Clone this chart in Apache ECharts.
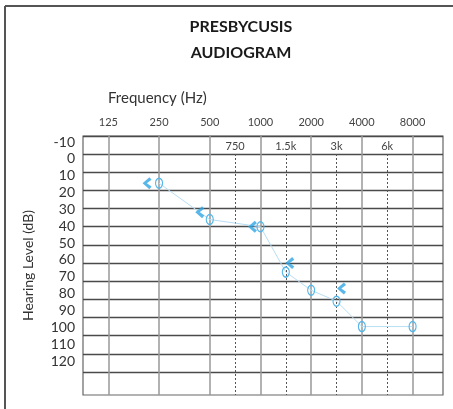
<!DOCTYPE html>
<html>
<head>
<meta charset="utf-8">
<script src="https://cdn.jsdelivr.net/npm/echarts@6/dist/echarts.min.js"></script>
<style>
html,body{margin:0;padding:0;background:#fff;}
#chart{width:453px;height:409px;}
</style>
</head>
<body>
<div id="chart"></div>
<script>
// ---- data ----
const freqLabels = ['125', '250', '500', '1000', '2000', '4000', '8000'];
const midLabels = ['750', '1.5k', '3k', '6k'];
const dbTicks = [-10, 0, 10, 20, 30, 40, 50, 60, 70, 80, 90, 100, 110, 120];
const airFreq = ['250', '500', '1000', '1.5k', '2000', '3k', '4000', '8000'];
const airDb = [16, 36, 40, 65, 75, 81, 95, 95];
const boneFreq = ['250', '500', '1000', '1.5k', '3k'];
const boneDb = [16, 32, 40, 60, 74];
// style: horizontal pixel shift of the bone markers
const boneShiftPx = [-12, -10, -8, 4, 5];

function pos(label) {
  const i = freqLabels.indexOf(label);
  if (i >= 0) return i;
  return midLabels.indexOf(label) + 2.5;
}
const mainTicks = freqLabels.map((_, i) => i);
const midTicks = midLabels.map((_, i) => i + 2.5);

const FONT = 'Lato';
const chart = echarts.init(document.getElementById('chart'));
chart.setOption({
  animation: false,
  backgroundColor: '#fff',
  title: [{
    text: 'PRESBYCUSIS\nAUDIOGRAM',
    left: 241, top: 14, textAlign: 'center', padding: 0,
    textStyle: { fontFamily: FONT, fontWeight: 'bold', fontSize: 16, lineHeight: 26, color: '#1a1a1a' }
  }, {
    text: 'Frequency (Hz)',
    left: 108, top: 91, padding: 0,
    textStyle: { fontFamily: FONT, fontWeight: 'normal', fontSize: 15, color: '#333' }
  }],
  graphic: [
    { type: 'line', shape: { x1: 5, y1: 6, x2: 453, y2: 6 }, style: { stroke: '#555', lineWidth: 2 } },
    { type: 'line', shape: { x1: 5, y1: 6, x2: 5, y2: 409 }, style: { stroke: '#555', lineWidth: 2 } }
  ],
  grid: [
    { left: 83, top: 136, width: 360, height: 259, show: true, borderColor: '#666', borderWidth: 1.2, backgroundColor: 'transparent' },
    { left: 83, top: 154, width: 360, height: 241, show: false }
  ],
  xAxis: [{
    gridIndex: 0, type: 'value', position: 'top', min: -0.5, max: 6.6,
    axisLine: { show: false },
    axisTick: { show: false, customValues: mainTicks },
    axisLabel: { customValues: mainTicks, margin: 8, fontFamily: FONT, fontSize: 11, color: '#444',
      formatter: v => freqLabels[Math.round(v)] },
    splitLine: { show: true, customValues: mainTicks, lineStyle: { color: '#999', width: 1.5 } }
  }, {
    gridIndex: 1, type: 'value', position: 'top', min: -0.5, max: 6.6,
    axisLine: { show: false },
    axisTick: { show: false, customValues: midTicks },
    axisLabel: { customValues: midTicks, margin: 2, fontFamily: FONT, fontSize: 11, color: '#444',
      formatter: v => midLabels[Math.round(v - 2.5)] },
    splitLine: { show: true, customValues: midTicks, lineStyle: { color: '#555', width: 1, type: [2, 2] } }
  }],
  yAxis: [{
    gridIndex: 0, type: 'value', inverse: true, min: -10, max: 132.7, interval: 10,
    axisLine: { show: false },
    axisTick: { show: false, customValues: dbTicks },
    axisLabel: { show: false },
    splitLine: { show: true, customValues: dbTicks, lineStyle: { color: '#4a4a4a', width: 1.3 } }
  }, {
    gridIndex: 0, type: 'value', inverse: true, min: -13.56, max: 140.18,
    position: 'left',
    name: 'Hearing Level (dB)', nameLocation: 'middle', nameGap: 48, nameRotate: 90,
    nameTextStyle: { fontFamily: FONT, fontSize: 14, color: '#333' },
    axisLine: { show: false },
    axisTick: { show: false, customValues: dbTicks },
    axisLabel: { customValues: dbTicks, margin: 8, fontFamily: FONT, fontSize: 14, color: '#333' },
    splitLine: { show: false }
  }, {
    gridIndex: 1, type: 'value', min: 0, max: 1, show: false
  }],
  series: [{
    type: 'line', xAxisIndex: 0, yAxisIndex: 0,
    data: airFreq.map((f, i) => [pos(f), airDb[i]]),
    symbol: 'circle', symbolSize: [7, 10], showSymbol: true,
    itemStyle: { color: 'rgba(255,255,255,0)', borderColor: '#55b6ea', borderWidth: 1.3 },
    lineStyle: { color: '#b8def4', width: 1 },
    z: 3
  }, {
    type: 'scatter', xAxisIndex: 0, yAxisIndex: 0,
    data: boneFreq.map((f, i) => ({ value: [pos(f), boneDb[i]], symbolOffset: [boneShiftPx[i], 0] })),
    symbol: 'path://M8,0 L0,5.5 L8,11 L10.5,8.6 L5,5.5 L10.5,2.4 Z',
    symbolSize: [9, 12],
    itemStyle: { color: '#2fa6e4' },
    z: 4
  }]
});
</script>
</body>
</html>
